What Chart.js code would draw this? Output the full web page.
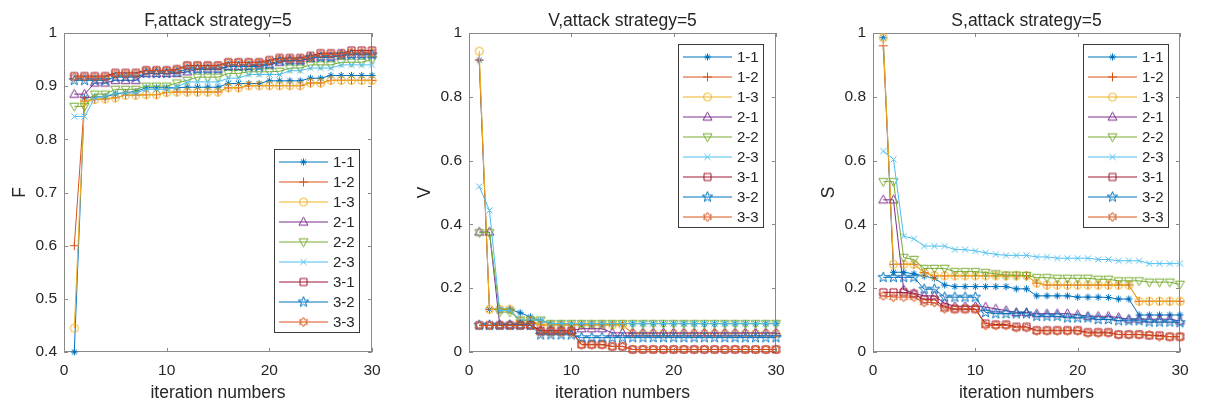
<!DOCTYPE html>
<html>
<head>
<meta charset="utf-8">
<script src="https://cdn.jsdelivr.net/npm/chart.js@4.4.1/dist/chart.umd.min.js"></script>
<style>
  body { margin: 0; background: #fff; width: 1205px; height: 402px; position: relative; overflow: hidden; }
  .panel { position: absolute; top: 0; height: 402px; }
</style>
</head>
<body>
<div class="panel" style="left:0;width:400px"><canvas id="cF" width="400" height="402"></canvas></div>
<div class="panel" style="left:400px;width:400px"><canvas id="cV" width="400" height="402"></canvas></div>
<div class="panel" style="left:800px;width:405px"><canvas id="cS" width="405" height="402"></canvas></div>
<script>
// ---- data ----
const iters = [1,2,3,4,5,6,7,8,9,10,11,12,13,14,15,16,17,18,19,20,21,22,23,24,25,26,27,28,29,30];
const seriesNames = ['1-1','1-2','1-3','2-1','2-2','2-3','3-1','3-2','3-3'];
const xTicks = [0, 10, 20, 30];
const fTicks = [0.4, 0.5, 0.6, 0.7, 0.8, 0.9, 1];
const vTicks = [0, 0.2, 0.4, 0.6, 0.8, 1];
const sTicks = [0, 0.2, 0.4, 0.6, 0.8, 1];

// F
const f11 = [0.40,0.878,0.88,0.88,0.885,0.888,0.89,0.897,0.897,0.897,0.897,0.898,0.898,0.898,0.898,0.905,0.905,0.905,0.905,0.91,0.91,0.91,0.91,0.915,0.915,0.92,0.92,0.92,0.92,0.92];
const f12 = [0.60,0.872,0.875,0.876,0.878,0.883,0.883,0.884,0.884,0.888,0.889,0.889,0.889,0.889,0.889,0.897,0.897,0.901,0.901,0.901,0.901,0.901,0.901,0.906,0.906,0.911,0.911,0.911,0.911,0.911];
const f13 = [0.445,0.872,0.875,0.876,0.878,0.883,0.883,0.884,0.884,0.888,0.889,0.889,0.889,0.889,0.889,0.897,0.897,0.901,0.901,0.901,0.901,0.901,0.901,0.906,0.906,0.911,0.911,0.911,0.911,0.911];
const f21 = [0.885,0.885,0.906,0.906,0.911,0.911,0.911,0.924,0.924,0.924,0.924,0.927,0.932,0.932,0.932,0.937,0.937,0.937,0.94,0.94,0.945,0.948,0.948,0.952,0.955,0.955,0.957,0.96,0.96,0.96];
const f22 = [0.862,0.862,0.885,0.885,0.894,0.894,0.894,0.9,0.9,0.9,0.906,0.911,0.917,0.917,0.917,0.924,0.924,0.927,0.927,0.927,0.928,0.934,0.934,0.94,0.94,0.94,0.945,0.945,0.945,0.95];
const f23 = [0.843,0.843,0.878,0.881,0.887,0.887,0.887,0.894,0.894,0.894,0.898,0.908,0.908,0.908,0.908,0.915,0.915,0.922,0.922,0.922,0.922,0.929,0.929,0.934,0.934,0.934,0.94,0.94,0.94,0.94];
const f31 = [0.919,0.919,0.919,0.919,0.925,0.925,0.925,0.93,0.93,0.93,0.932,0.939,0.939,0.939,0.939,0.945,0.945,0.945,0.945,0.949,0.953,0.953,0.953,0.957,0.962,0.962,0.962,0.967,0.967,0.967];
const f32 = [0.911,0.911,0.911,0.911,0.917,0.917,0.917,0.924,0.924,0.924,0.926,0.932,0.932,0.932,0.932,0.937,0.937,0.937,0.937,0.941,0.948,0.948,0.948,0.954,0.954,0.954,0.959,0.959,0.959,0.959];
const f33 = [0.917,0.917,0.917,0.917,0.923,0.923,0.923,0.929,0.929,0.929,0.931,0.938,0.938,0.938,0.938,0.944,0.944,0.944,0.944,0.947,0.951,0.951,0.951,0.955,0.96,0.96,0.96,0.964,0.964,0.964];

// V
const v11 = [0.915,0.134,0.134,0.134,0.123,0.11,0.097,0.089,0.089,0.089,0.089,0.089,0.089,0.089,0.089,0.089,0.089,0.089,0.089,0.089,0.089,0.089,0.089,0.089,0.089,0.089,0.089,0.089,0.089,0.089];
const v12 = [0.915,0.134,0.134,0.134,0.098,0.098,0.085,0.085,0.085,0.085,0.085,0.085,0.085,0.085,0.085,0.058,0.058,0.058,0.058,0.058,0.058,0.058,0.058,0.058,0.058,0.058,0.058,0.058,0.058,0.058];
const v13 = [0.943,0.134,0.134,0.134,0.098,0.098,0.085,0.085,0.085,0.085,0.085,0.085,0.085,0.085,0.085,0.058,0.058,0.058,0.058,0.058,0.058,0.058,0.058,0.058,0.058,0.058,0.058,0.058,0.058,0.058];
const v21 = [0.376,0.376,0.085,0.085,0.085,0.085,0.068,0.068,0.068,0.068,0.073,0.073,0.073,0.06,0.06,0.06,0.06,0.06,0.06,0.06,0.06,0.06,0.06,0.06,0.06,0.06,0.06,0.06,0.06,0.06];
const v22 = [0.374,0.374,0.125,0.125,0.1,0.1,0.1,0.089,0.089,0.089,0.089,0.089,0.089,0.089,0.089,0.089,0.089,0.089,0.089,0.089,0.089,0.089,0.089,0.089,0.089,0.089,0.089,0.089,0.089,0.089];
const v23 = [0.519,0.444,0.13,0.13,0.1,0.1,0.1,0.089,0.089,0.089,0.089,0.089,0.089,0.089,0.089,0.089,0.089,0.089,0.089,0.089,0.089,0.089,0.089,0.089,0.089,0.089,0.089,0.089,0.089,0.089];
const v31 = [0.084,0.084,0.084,0.084,0.084,0.084,0.066,0.066,0.066,0.066,0.024,0.024,0.024,0.018,0.018,0.008,0.008,0.008,0.008,0.008,0.008,0.008,0.008,0.008,0.008,0.008,0.008,0.008,0.008,0.008];
const v32 = [0.084,0.084,0.084,0.084,0.084,0.084,0.054,0.054,0.054,0.054,0.045,0.045,0.045,0.045,0.045,0.045,0.045,0.045,0.045,0.045,0.045,0.045,0.045,0.045,0.045,0.045,0.045,0.045,0.045,0.045];
const v33 = [0.083,0.083,0.083,0.083,0.083,0.083,0.062,0.062,0.062,0.062,0.022,0.022,0.022,0.017,0.017,0.008,0.008,0.008,0.008,0.008,0.008,0.008,0.008,0.008,0.008,0.008,0.008,0.008,0.008,0.008];

// S
const s11 = [0.985,0.25,0.25,0.245,0.238,0.231,0.21,0.205,0.205,0.205,0.205,0.205,0.205,0.198,0.198,0.176,0.176,0.176,0.176,0.172,0.172,0.172,0.171,0.166,0.166,0.116,0.116,0.116,0.116,0.116];
const s12 = [0.96,0.275,0.275,0.275,0.249,0.239,0.239,0.239,0.239,0.239,0.239,0.239,0.239,0.239,0.239,0.216,0.21,0.21,0.21,0.21,0.21,0.21,0.21,0.21,0.21,0.159,0.159,0.159,0.159,0.159];
const s13 = [0.985,0.275,0.275,0.275,0.249,0.239,0.239,0.239,0.239,0.239,0.239,0.239,0.239,0.239,0.239,0.216,0.21,0.21,0.21,0.21,0.21,0.21,0.21,0.21,0.21,0.159,0.159,0.159,0.159,0.159];
const s21 = [0.477,0.477,0.195,0.184,0.176,0.176,0.153,0.143,0.143,0.143,0.141,0.135,0.13,0.124,0.124,0.12,0.12,0.12,0.12,0.117,0.112,0.112,0.112,0.108,0.103,0.103,0.103,0.103,0.103,0.097];
const s22 = [0.534,0.534,0.296,0.29,0.262,0.262,0.262,0.252,0.252,0.252,0.249,0.245,0.241,0.241,0.24,0.233,0.233,0.231,0.231,0.231,0.231,0.228,0.228,0.223,0.223,0.223,0.219,0.219,0.219,0.212];
const s23 = [0.63,0.604,0.363,0.355,0.332,0.332,0.332,0.321,0.321,0.317,0.311,0.306,0.303,0.303,0.303,0.298,0.298,0.294,0.294,0.294,0.294,0.29,0.29,0.286,0.286,0.286,0.277,0.277,0.277,0.277];
const s31 = [0.187,0.187,0.187,0.182,0.164,0.164,0.141,0.135,0.135,0.135,0.089,0.086,0.086,0.079,0.079,0.068,0.068,0.068,0.068,0.068,0.062,0.062,0.062,0.055,0.055,0.055,0.052,0.052,0.048,0.048];
const s32 = [0.234,0.234,0.234,0.234,0.197,0.197,0.172,0.172,0.172,0.172,0.124,0.12,0.12,0.12,0.12,0.112,0.112,0.112,0.107,0.107,0.107,0.102,0.102,0.098,0.098,0.098,0.094,0.094,0.094,0.092];
const s33 = [0.176,0.172,0.172,0.172,0.155,0.155,0.135,0.135,0.135,0.135,0.083,0.083,0.083,0.076,0.076,0.066,0.066,0.066,0.066,0.066,0.059,0.059,0.059,0.054,0.054,0.054,0.054,0.048,0.048,0.048];

// ---- styles (matlab default order) ----
const seriesColors = ['#0072BD','#D95319','#EDB120','#7E2F8E','#77AC30','#4DBEEE','#A2142F','#0072BD','#D95319'];
const seriesMarkers = ['asterisk','plus','circle','triUp','triDown','cross','square','pentagram','hexagram'];
const FONT = '"Liberation Sans", Arial, Helvetica, sans-serif';
const TXT = '#262626';

// small canvases used as point styles (matlab markers are hollow)
function makeMarker(shape, color) {
  const c = document.createElement('canvas');
  c.width = 13; c.height = 13;
  const g = c.getContext('2d');
  g.strokeStyle = color; g.lineWidth = 1;
  const cx = 6.5, cy = 6.5;
  g.beginPath();
  if (shape === 'asterisk') {
    const r = 3.6, d = 2.6;
    g.moveTo(cx - r, cy); g.lineTo(cx + r, cy);
    g.moveTo(cx, cy - r); g.lineTo(cx, cy + r);
    g.moveTo(cx - d, cy - d); g.lineTo(cx + d, cy + d);
    g.moveTo(cx - d, cy + d); g.lineTo(cx + d, cy - d);
  } else if (shape === 'plus') {
    g.moveTo(cx - 4.5, cy); g.lineTo(cx + 4.5, cy);
    g.moveTo(cx, cy - 4.5); g.lineTo(cx, cy + 4.5);
  } else if (shape === 'circle') {
    g.arc(cx, cy, 4, 0, Math.PI * 2);
  } else if (shape === 'triUp') {
    g.moveTo(cx, cy - 4.8); g.lineTo(cx + 4.5, cy + 3.2); g.lineTo(cx - 4.5, cy + 3.2); g.closePath();
  } else if (shape === 'triDown') {
    g.moveTo(cx, cy + 4.8); g.lineTo(cx + 4.5, cy - 3.2); g.lineTo(cx - 4.5, cy - 3.2); g.closePath();
  } else if (shape === 'cross') {
    g.moveTo(cx - 3, cy - 3); g.lineTo(cx + 3, cy + 3);
    g.moveTo(cx - 3, cy + 3); g.lineTo(cx + 3, cy - 3);
  } else if (shape === 'square') {
    g.rect(cx - 3.5, cy - 3.5, 7, 7);
  } else if (shape === 'pentagram' || shape === 'hexagram') {
    const n = shape === 'pentagram' ? 5 : 6;
    const ro = shape === 'pentagram' ? 5.5 : 4.6, ri = shape === 'pentagram' ? 2.2 : 2.6;
    for (let k = 0; k < n * 2; k++) {
      const ang = -Math.PI / 2 + k * Math.PI / n;
      const r = k % 2 ? ri : ro;
      const px = cx + r * Math.cos(ang), py = cy + r * Math.sin(ang);
      k ? g.lineTo(px, py) : g.moveTo(px, py);
    }
    g.closePath();
  }
  g.stroke();
  return c;
}

const markerImgs = seriesMarkers.map((m, i) => makeMarker(m, seriesColors[i]));

// box, inward ticks, titles and legend drawn matlab style
const matlabLook = {
  id: 'matlabLook',
  beforeDatasetsDraw(chart) {
    const { ctx, chartArea: a, scales: { x, y } } = chart;
    ctx.save();
    ctx.strokeStyle = '#8a8a8a';
    ctx.lineWidth = 1;
    ctx.strokeRect(a.left + 0.5, a.top + 0.5, a.right - a.left - 1, a.bottom - a.top - 1);
    ctx.beginPath();
    x.ticks.forEach(t => {
      const px = Math.round(x.getPixelForValue(t.value)) + 0.5;
      ctx.moveTo(px, a.bottom); ctx.lineTo(px, a.bottom - 4);
      ctx.moveTo(px, a.top); ctx.lineTo(px, a.top + 4);
    });
    y.ticks.forEach(t => {
      const py = Math.round(y.getPixelForValue(t.value)) + 0.5;
      ctx.moveTo(a.left, py); ctx.lineTo(a.left + 4, py);
      ctx.moveTo(a.right, py); ctx.lineTo(a.right - 4, py);
    });
    ctx.stroke();
    ctx.restore();
  },
  afterDraw(chart, args, opts) {
    const { ctx, chartArea: a } = chart;
    const mid = (a.left + a.right) / 2;
    ctx.save();
    ctx.fillStyle = TXT;
    ctx.font = '17.5px ' + FONT;
    ctx.textAlign = 'center';
    ctx.textBaseline = 'alphabetic';
    ctx.fillText(opts.title, mid, 26);
    ctx.fillText('iteration numbers', mid, 398);
    ctx.save();
    ctx.translate(opts.yTitleX, (a.top + a.bottom) / 2);
    ctx.rotate(-Math.PI / 2);
    ctx.fillText(opts.yLabel, 0, 0);
    ctx.restore();

    // legend box
    const L = opts.legend;
    ctx.fillStyle = '#fff';
    ctx.fillRect(L.x, L.y, 85, 183);
    ctx.strokeStyle = '#3a3a3a';
    ctx.lineWidth = 1;
    ctx.strokeRect(L.x + 0.5, L.y + 0.5, 85, 183);
    ctx.font = '15px ' + FONT;
    ctx.textAlign = 'left';
    ctx.textBaseline = 'middle';
    chart.data.datasets.forEach((ds, i) => {
      const ly = L.y + 13 + i * 20;
      ctx.strokeStyle = ds.borderColor;
      ctx.beginPath();
      ctx.moveTo(L.x + 5, ly); ctx.lineTo(L.x + 54, ly);
      ctx.stroke();
      const img = ds.pointStyle;
      ctx.drawImage(img, L.x + 29.5 - img.width / 2, ly - img.height / 2);
      ctx.fillStyle = TXT;
      ctx.fillText(ds.label, L.x + 59, ly + 1);
    });
    ctx.restore();
  }
};

const panels = [
  { id: 'cF', title: 'F,attack strategy=5', yLabel: 'F', ticks: fTicks, min: 0.4, max: 1,
    series: [f11, f12, f13, f21, f22, f23, f31, f32, f33], left: 64, right: 28, yTitleX: 25, legend: { x: 274, y: 149 } },
  { id: 'cV', title: 'V,attack strategy=5', yLabel: 'V', ticks: vTicks, min: 0, max: 1,
    series: [v11, v12, v13, v21, v22, v23, v31, v32, v33], left: 69, right: 24, yTitleX: 30, legend: { x: 278, y: 44 } },
  { id: 'cS', title: 'S,attack strategy=5', yLabel: 'S', ticks: sTicks, min: 0, max: 1,
    series: [s11, s12, s13, s21, s22, s23, s31, s32, s33], left: 73, right: 25, yTitleX: 34, legend: { x: 283, y: 44 } }
];

panels.forEach(p => {
  const datasets = p.series.map((vals, i) => ({
    label: seriesNames[i],
    data: iters.map((it, k) => ({ x: it, y: vals[k] })),
    borderColor: seriesColors[i],
    backgroundColor: 'transparent',
    borderWidth: 1,
    pointStyle: markerImgs[i],
    pointRadius: 4,
    tension: 0,
    clip: false,
    order: -i
  }));

  new Chart(document.getElementById(p.id), {
    type: 'line',
    data: { datasets },
    options: {
      responsive: false,
      animation: false,
      layout: { padding: { top: 33, right: p.right, bottom: 0, left: 0 } },
      plugins: {
        legend: { display: false },
        tooltip: { enabled: false },
        matlabLook: { title: p.title, yLabel: p.yLabel, yTitleX: p.yTitleX, legend: p.legend }
      },
      scales: {
        x: {
          type: 'linear', min: 0, max: 30,
          grid: { display: false, drawTicks: false },
          border: { display: false },
          afterBuildTicks: s => { s.ticks = xTicks.map(v => ({ value: v })); },
          afterFit: s => { s.height = 50; },
          ticks: { padding: 9, color: TXT, font: { family: FONT, size: 15.5 }, maxRotation: 0, callback: v => String(v) }
        },
        y: {
          type: 'linear', min: p.min, max: p.max,
          grid: { display: false, drawTicks: false },
          border: { display: false },
          afterBuildTicks: s => { s.ticks = p.ticks.map(v => ({ value: v })); },
          afterFit: s => { s.width = p.left; },
          ticks: { padding: 7, color: TXT, font: { family: FONT, size: 15.5 }, callback: v => String(v) }
        }
      }
    },
    plugins: [matlabLook]
  });
});
</script>
</body>
</html>
